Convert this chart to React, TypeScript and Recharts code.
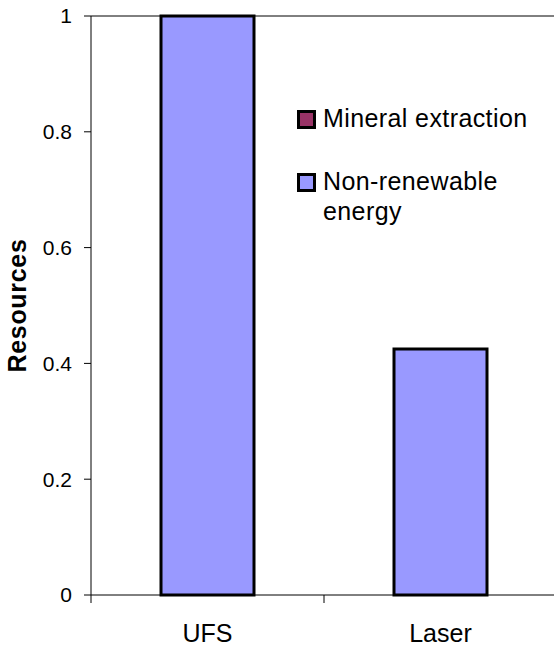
import React from 'react';
import { BarChart, Bar, XAxis, YAxis, ReferenceLine, Legend } from 'recharts';

const categories = ['UFS', 'Laser'];
const mineralExtraction = [0, 0];
const nonRenewableEnergy = [1, 0.425];
const yTicks = [0, 0.2, 0.4, 0.6, 0.8, 1];
const legendOrder = ['mineral', 'energy'];

const data = categories.map((name, i) => ({
  name,
  energy: nonRenewableEnergy[i],
  mineral: mineralExtraction[i],
}));

const FONT = '"Liberation Sans", Arial, Helvetica, sans-serif';
const W = 560;
const H = 648;
const MARGIN = { top: 16, right: 3, left: 0, bottom: 0 };
const Y_AXIS_W = 91;
const X_AXIS_H = 53;
const TICK = 7;
const X_TICK_GAP = 22;
const HALF_BAND = (W - MARGIN.left - MARGIN.right - Y_AXIS_W) / categories.length / 2;

// category labels in the middle, tick marks on the band edges (Excel style)
const XTick = (props: any) => {
  const { x, y, payload } = props;
  const axisY = y - TICK - X_TICK_GAP;
  return (
    <g>
      <line x1={x - HALF_BAND} x2={x - HALF_BAND} y1={axisY} y2={axisY + 8} stroke="#000" />
      <text x={x} y={y} dy="0.71em" textAnchor="middle" fill="#000" fontSize={25} fontFamily={FONT}>
        {payload.value}
      </text>
    </g>
  );
};

const TitleLabel = (props: any) => {
  const { viewBox } = props;
  const cx = 17;
  const cy = viewBox.y + viewBox.height / 2;
  return (
    <text
      x={cx}
      y={cy}
      transform={`rotate(-90 ${cx} ${cy})`}
      textAnchor="middle"
      dominantBaseline="central"
      fontSize={25}
      fontWeight="bold"
      letterSpacing={0.7}
      fontFamily={FONT}
      fill="#000"
    >
      Resources
    </text>
  );
};

const LegendContent = (props: any) => {
  const items = [...(props.payload || [])].sort(
    (a: any, b: any) => legendOrder.indexOf(a.dataKey) - legendOrder.indexOf(b.dataKey)
  );
  return (
    <div style={{ fontFamily: FONT, fontSize: 25, lineHeight: '30px', color: '#000' }}>
      {items.map((item: any, i: number) => (
        <div key={item.value} style={{ display: 'flex', alignItems: 'flex-start', marginTop: i ? 33 : 0 }}>
          <span
            style={{
              width: 19,
              height: 19,
              boxSizing: 'border-box',
              border: '3px solid #000',
              background: item.color,
              marginTop: 6.5,
              marginRight: 7,
              flexShrink: 0,
            }}
          />
          <span style={{ width: 230, letterSpacing: 0.4 }}>{item.value}</span>
        </div>
      ))}
    </div>
  );
};

export default function App() {
  return (
    <div style={{ position: 'absolute', left: 0, top: 0, width: 554, height: 648, overflow: 'hidden', background: '#fff' }}>
      <BarChart width={W} height={H} data={data} margin={MARGIN}>
        <XAxis
          dataKey="name"
          height={X_AXIS_H}
          axisLine={{ stroke: '#000' }}
          tickLine={false}
          tickSize={TICK}
          tickMargin={X_TICK_GAP}
          tick={<XTick />}
          interval={0}
        />
        <YAxis
          type="number"
          domain={[0, 1]}
          ticks={yTicks}
          interval={0}
          width={Y_AXIS_W}
          tickSize={TICK}
          tickMargin={12}
          axisLine={{ stroke: '#000' }}
          tickLine={{ stroke: '#000' }}
          tick={{ fill: '#000', fontSize: 21, fontFamily: FONT }}
          label={<TitleLabel />}
        />
        <ReferenceLine y={1} stroke="#000" />
        <Legend
          layout="horizontal"
          verticalAlign="middle"
          align="center"
          content={<LegendContent />}
          wrapperStyle={{ position: 'absolute', left: 297, top: 103, width: 260 }}
        />
        <Bar
          dataKey="energy"
          name="Non-renewable energy"
          stackId="a"
          fill="#9999FF"
          stroke="#000"
          strokeWidth={3}
          barSize={93}
          isAnimationActive={false}
        />
        <Bar
          dataKey="mineral"
          name="Mineral extraction"
          stackId="a"
          fill="#993366"
          stroke="#000"
          strokeWidth={3}
          barSize={93}
          isAnimationActive={false}
        />
      </BarChart>
    </div>
  );
}
